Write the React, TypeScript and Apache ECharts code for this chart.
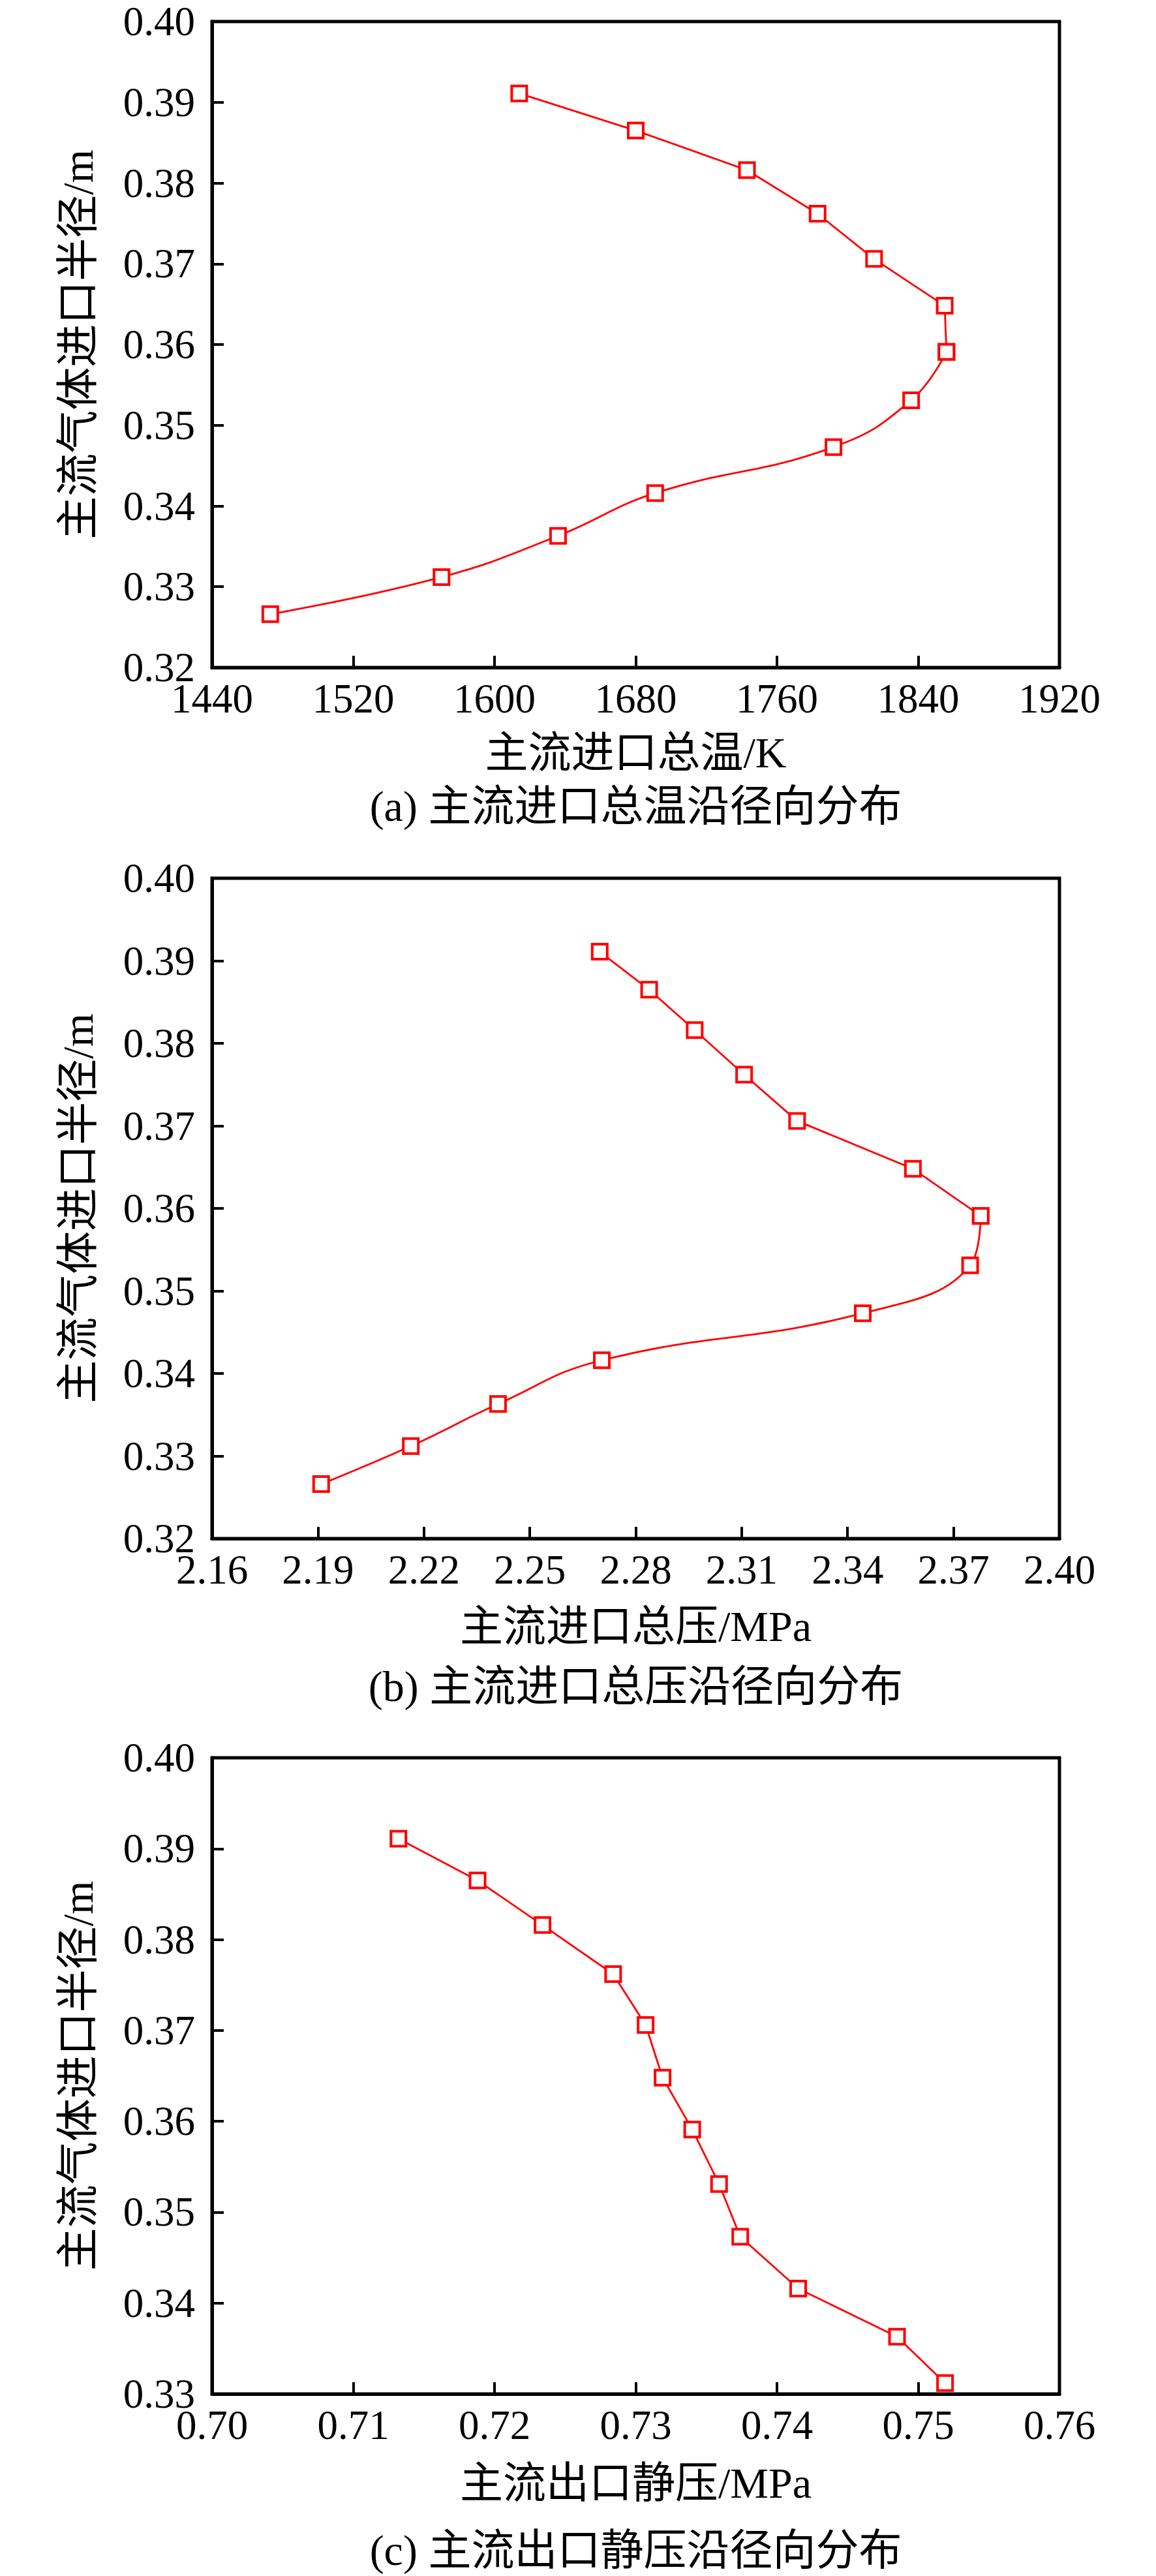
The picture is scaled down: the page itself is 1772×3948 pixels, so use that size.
import React, { useEffect, useRef } from "react";
import * as echarts from "echarts";

// Radial positions (m) shared by the three profiles
const radius = [0.3911, 0.3865, 0.3816, 0.3762, 0.3706, 0.3648, 0.3591, 0.3531, 0.3473, 0.3416, 0.3363, 0.3312, 0.3266];
// (a) inlet total temperature, K
const totalTemp = [1614, 1680, 1743, 1783, 1815, 1855, 1856, 1836, 1792, 1691, 1636, 1570, 1473];
// (b) inlet total pressure, MPa
const totalPress = [2.2698, 2.2838, 2.2967, 2.3107, 2.3257, 2.3585, 2.3777, 2.3747, 2.3443, 2.2704, 2.241, 2.2163, 2.1909];
// (c) outlet static pressure, MPa (12 points)
const staticPress = [0.7132, 0.7188, 0.7234, 0.7284, 0.7307, 0.7319, 0.734, 0.7359, 0.7374, 0.7415, 0.7485, 0.7519];

// Tick labels
const tempTicks = [1440, 1520, 1600, 1680, 1760, 1840, 1920];
const totalPressTicks = [2.16, 2.19, 2.22, 2.25, 2.28, 2.31, 2.34, 2.37, 2.4];
const staticPressTicks = [0.7, 0.71, 0.72, 0.73, 0.74, 0.75, 0.76];
const radiusTicksAB = [0.32, 0.33, 0.34, 0.35, 0.36, 0.37, 0.38, 0.39, 0.4];
const radiusTicksC = [0.33, 0.34, 0.35, 0.36, 0.37, 0.38, 0.39, 0.4];

const yTitle = "主流气体进口半径/m";
const xTitles = ["主流进口总温/K", "主流进口总压/MPa", "主流出口静压/MPa"];
const captions = ["(a) 主流进口总温沿径向分布", "(b) 主流进口总压沿径向分布", "(c) 主流出口静压沿径向分布"];

const FONT = "'Liberation Serif', 'Times New Roman', 'Noto Sans CJK SC', serif";
const RED = "#ff0000";

const grids = [
  { left: 325, top: 33, width: 1299, height: 990 },
  { left: 325, top: 1346, width: 1299, height: 1012 },
  { left: 325, top: 2694, width: 1299, height: 975 },
];
const xNameGaps = [97, 101, 103];
const captionY = [1235, 2584, 3908];

function pairs(xs: number[], ys: number[]) {
  return xs.map((x, i) => [x, ys[i]]);
}

function App() {
  const ref = useRef<HTMLDivElement>(null);
  useEffect(() => {
    if (!ref.current) return;
    const chart = echarts.init(ref.current, null, { renderer: "svg" });

    const xTicks = [tempTicks, totalPressTicks, staticPressTicks];
    const yTicks = [radiusTicksAB, radiusTicksAB, radiusTicksC];
    const xDecimals = [0, 2, 2];

    const axisCommon = {
      axisLine: { show: true, onZero: false, lineStyle: { color: "#000", width: 5 } },
      axisTick: { show: true, inside: true, length: 18, lineStyle: { color: "#000", width: 4 } },
      splitLine: { show: false },
    };

    const xAxis = xTicks.map((t, i) => ({
      type: "value",
      gridIndex: i,
      min: t[0],
      max: t[t.length - 1],
      interval: Math.round((t[1] - t[0]) * 1e6) / 1e6,
      ...axisCommon,
      axisLabel: {
        show: true,
        fontFamily: FONT,
        fontSize: 63,
        color: "#000",
        margin: 16,
        showMinLabel: true,
        showMaxLabel: true,
        hideOverlap: false,
        formatter: (v: number) => v.toFixed(xDecimals[i]),
      },
      name: xTitles[i],
      nameLocation: "middle",
      nameGap: xNameGaps[i],
      nameTextStyle: { fontFamily: FONT, fontSize: 66, color: "#000" },
    }));

    const yAxis = yTicks.map((t, i) => ({
      type: "value",
      gridIndex: i,
      min: t[0],
      max: t[t.length - 1],
      interval: 0.01,
      ...axisCommon,
      axisLabel: {
        show: true,
        fontFamily: FONT,
        fontSize: 63,
        color: "#000",
        margin: 26,
        showMinLabel: true,
        showMaxLabel: true,
        hideOverlap: false,
        formatter: (v: number) => v.toFixed(2),
      },
      name: yTitle,
      nameLocation: "middle",
      nameGap: 173,
      nameRotate: 90,
      nameTextStyle: { fontFamily: FONT, fontSize: 66, color: "#000" },
    }));

    const baseSeries = {
      type: "line",
      symbol: "rect",
      symbolSize: 23,
      showAllSymbol: true,
      itemStyle: { color: "#fff", borderColor: RED, borderWidth: 4 },
      lineStyle: { color: RED, width: 2.8 },
      emphasis: { disabled: true },
      clip: false,
      z: 3,
    };

    const aPts = pairs(totalTemp, radius);
    const bPts = pairs(totalPress, radius);
    const cPts = pairs(staticPress, radius.slice(0, staticPress.length));

    const series = [
      { ...baseSeries, xAxisIndex: 0, yAxisIndex: 0, data: aPts.slice(0, 7), smooth: false },
      { ...baseSeries, xAxisIndex: 0, yAxisIndex: 0, data: aPts.slice(6), smooth: 0.45 },
      { ...baseSeries, xAxisIndex: 1, yAxisIndex: 1, data: bPts.slice(0, 7), smooth: false },
      { ...baseSeries, xAxisIndex: 1, yAxisIndex: 1, data: bPts.slice(6), smooth: 0.45 },
      { ...baseSeries, xAxisIndex: 2, yAxisIndex: 2, data: cPts, smooth: false },
    ];

    const graphic = captions.map((c, i) => ({
      type: "text",
      x: grids[i].left + grids[i].width / 2,
      y: captionY[i],
      style: {
        text: c,
        fontFamily: FONT,
        fontSize: 66,
        fill: "#000",
        align: "center",
        verticalAlign: "middle",
      },
    }));

    chart.setOption({
      animation: false,
      backgroundColor: "#fff",
      grid: grids.map((g) => ({
        ...g,
        show: true,
        borderColor: "#000",
        borderWidth: 5,
        backgroundColor: "transparent",
        containLabel: false,
      })),
      xAxis,
      yAxis,
      series,
      graphic,
    });

    return () => chart.dispose();
  }, []);

  return (
    <div
      ref={ref}
      style={{ position: "absolute", left: 0, top: 0, width: 1772, height: 3948, background: "#fff" }}
    />
  );
}

export default App;
